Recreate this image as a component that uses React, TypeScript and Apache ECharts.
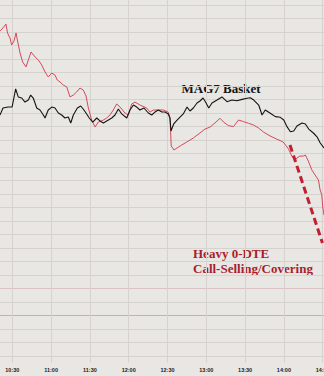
import React, { useEffect, useRef } from "react";
import * as echarts from "echarts";

// Time in minutes since midnight (630 = 10:30), values in % units (0.1 per gridline)
const basketTimes = [
  620.5, 622.8, 626.7, 629.8, 630.9, 632.6, 634.6, 637.3, 639.8, 642.4, 644.2, 646.2, 648.9,
  651.4, 654.0, 655.3, 657.8, 660.5, 663.0, 665.6, 668.2, 670.7, 673.3, 675.2, 677.2, 680.3,
  682.9, 685.4, 688.0, 689.5, 692.2, 695.3, 697.8, 700.4, 703.0, 706.9, 709.4, 712.0, 714.6,
  718.5, 721.0, 723.6, 726.2, 728.7, 731.8, 735.2, 737.8, 740.3, 742.9, 745.7, 748.1, 750.6,
  751.9, 752.7, 754.8, 757.4, 759.7, 762.2, 765.1, 767.4, 770.0, 772.8, 775.1, 777.5, 779.4,
  781.9, 784.4, 788.3, 792.1, 796.0, 799.9, 803.7, 807.6, 811.5, 814.0, 816.7, 820.5, 823.1,
  825.6, 829.5, 833.4, 837.2, 839.9, 842.4, 845.0, 847.6, 850.1, 854.0, 856.6, 859.2, 863.0,
  865.6, 868.1, 871.0,
];
const basketValues = [
  1.485, 1.537, 1.544, 1.544, 1.596, 1.678, 1.619, 1.611, 1.581, 1.596, 1.633, 1.611, 1.537,
  1.522, 1.485, 1.463, 1.522, 1.544, 1.537, 1.5, 1.485, 1.463, 1.47, 1.426, 1.485, 1.537,
  1.552, 1.522, 1.485, 1.463, 1.433, 1.463, 1.441, 1.426, 1.441, 1.463, 1.485, 1.53, 1.493,
  1.463, 1.522, 1.559, 1.544, 1.522, 1.537, 1.5, 1.485, 1.507, 1.522, 1.507, 1.507, 1.493,
  1.463, 1.367, 1.419, 1.448, 1.47, 1.493, 1.544, 1.515, 1.537, 1.574, 1.589, 1.611, 1.581,
  1.537, 1.574, 1.596, 1.619, 1.584, 1.596, 1.591, 1.601, 1.609, 1.613, 1.596, 1.559, 1.485,
  1.522, 1.498, 1.473, 1.468, 1.448, 1.399, 1.361, 1.367, 1.404, 1.426, 1.419, 1.381, 1.35,
  1.324, 1.278, 1.241,
];

const otherTimes = [
  620.5, 622.8, 625.1, 626.3, 628.2, 629.5, 631.3, 632.9, 633.9, 636.0, 638.0, 640.6, 642.4,
  644.5, 647.6, 650.1, 652.7, 655.3, 657.8, 660.5, 663.0, 664.8, 666.9, 669.4, 672.1, 674.6,
  677.2, 679.8, 682.3, 684.9, 687.0, 688.8, 691.4, 694.0, 696.5, 700.4, 703.0, 705.5, 708.1,
  710.7, 713.3, 717.1, 719.7, 722.3, 724.9, 728.7, 733.9, 736.5, 739.0, 742.9, 746.8, 750.6,
  751.9, 752.9, 755.0, 757.4, 761.0, 764.9, 770.0, 775.1, 779.0, 782.9, 786.7, 790.6, 793.3,
  797.0, 801.0, 804.9, 808.8, 812.6, 816.5, 820.4, 824.2, 829.3, 834.4, 839.5, 843.6, 846.1,
  848.6, 850.1, 852.4, 855.0, 856.6, 858.9, 861.6, 864.1, 866.7, 868.0, 869.3, 870.0, 871.0,
];
const otherValues = [
  2.107, 2.13, 2.159, 2.093, 2.056, 2.004, 2.033, 2.093, 2.041, 1.944, 1.878, 1.841, 1.893,
  1.952, 1.915, 1.893, 1.856, 1.804, 1.767, 1.796, 1.781, 1.744, 1.73, 1.707, 1.693, 1.619,
  1.633, 1.656, 1.685, 1.67, 1.626, 1.537, 1.448, 1.396, 1.433, 1.448, 1.463, 1.485, 1.522,
  1.567, 1.544, 1.5, 1.485, 1.567, 1.581, 1.559, 1.537, 1.507, 1.522, 1.522, 1.522, 1.507,
  1.463, 1.256, 1.226, 1.241, 1.263, 1.285, 1.315, 1.352, 1.381, 1.396, 1.426, 1.461, 1.433,
  1.407, 1.399, 1.448, 1.436, 1.424, 1.411, 1.389, 1.359, 1.33, 1.307, 1.285, 1.233, 1.181,
  1.152, 1.167, 1.181, 1.181, 1.189, 1.144, 1.078, 1.041, 1.004, 0.93, 0.893, 0.804, 0.744,
];

const arrowTimes = [844.7, 869.8];
const arrowValues = [1.263, 0.537];

const basketLabel = "MAG7 Basket";
const noteLines = ["Heavy 0-DTE", "Call-Selling/Covering"];

const BG = "#e9e7e3";
const GRID = "#d6d3cf";

const fmt = (m: number) => {
  const h = Math.floor(m / 60);
  const mm = Math.round(m - h * 60);
  return `${h}:${String(mm).padStart(2, "0")}`;
};

export default function App() {
  const ref = useRef<HTMLDivElement>(null);
  useEffect(() => {
    document.body.style.margin = "0";
    const chart = echarts.init(ref.current!, undefined, { renderer: "svg" });
    const yMin = -0.35;
    const yMax = 2.35;
    const step = 0.05;
    const nTicks = Math.round((yMax - yMin) / step) + 1;
    const colors: string[] = [];
    for (let i = 0; i < nTicks; i++) {
      const v = Math.round((yMin + i * step) * 100) / 100;
      if (i % 2 === 0) colors.push("rgba(0,0,0,0)");
      else if (Math.abs(v) < 1e-6) colors.push("#b9b5b1");
      else if (Math.abs(v - 0.2) < 1e-6) colors.push("#dcc3c3");
      else colors.push(GRID);
    }
    chart.setOption({
      animation: false,
      backgroundColor: BG,
      grid: {
        left: -26.5,
        right: -37.5,
        top: -1.75,
        bottom: 13.25,
        containLabel: false,
        outerBoundsMode: "none",
      },
      xAxis: {
        type: "value",
        min: 600,
        max: 900,
        interval: 30,
        axisLine: { show: false },
        axisTick: { show: false },
        splitLine: { show: true, lineStyle: { color: GRID, width: 1 } },
        axisLabel: {
          formatter: (v: number) => fmt(v),
          fontSize: 5.5,
          fontWeight: "bold",
          color: "#222",
          fontFamily: "Liberation Sans",
          margin: 4,
          showMinLabel: false,
          showMaxLabel: false,
          hideOverlap: false,
        },
      },
      yAxis: {
        type: "value",
        min: yMin,
        max: yMax,
        interval: step,
        axisLine: { show: false },
        axisTick: { show: false },
        axisLabel: { show: false },
        splitLine: { show: true, lineStyle: { color: colors, width: 1 } },
      },
      series: [
        {
          type: "line",
          data: otherTimes.map((t, i) => [t, otherValues[i]]),
          symbol: "none",
          lineStyle: { color: "#d6485a", width: 1 },
        },
        {
          type: "line",
          data: basketTimes.map((t, i) => [t, basketValues[i]]),
          symbol: "none",
          lineStyle: { color: "#141414", width: 1.1 },
        },
        {
          type: "line",
          data: arrowTimes.map((t, i) => [t, arrowValues[i]]),
          symbol: "none",
          lineStyle: { color: "#c21f30", width: 3, type: [7, 4] },
        },
      ],
      graphic: [
        {
          type: "text",
          x: 181.5,
          y: 88.5,
          style: {
            text: basketLabel,
            font: 'bold 13px "Liberation Serif"',
            fill: "#141414",
            verticalAlign: "middle",
            align: "left",
          },
        },
        {
          type: "text",
          x: 193,
          y: 253,
          style: {
            text: noteLines[0],
            font: 'bold 13px "Liberation Serif"',
            fill: "#a81e2e",
            verticalAlign: "middle",
            align: "left",
          },
        },
        {
          type: "text",
          x: 193,
          y: 268,
          style: {
            text: noteLines[1],
            font: 'bold 13px "Liberation Serif"',
            fill: "#a81e2e",
            verticalAlign: "middle",
            align: "left",
          },
        },
      ],
    });
    return () => chart.dispose();
  }, []);
  return <div ref={ref} style={{ width: 324, height: 376, background: BG }} />;
}
